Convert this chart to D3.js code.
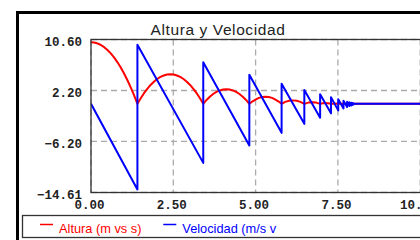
<!DOCTYPE html>
<html>
<head>
<meta charset="utf-8">
<script src="https://cdn.jsdelivr.net/npm/d3@7"></script>
<style>
  html, body { margin: 0; padding: 0; background: #fff; }
  svg { display: block; }
</style>
</head>
<body>
<div id="chart"></div>
<script>
// Altura (m) por tiempo (s)
const tiempoAltura = [
  0, 0.1, 0.2, 0.3, 0.4, 0.5, 0.6, 0.7, 0.8, 0.9, 1.0, 1.1, 1.2, 1.3, 1.36, 1.41,
  1.51, 1.61, 1.71, 1.81, 1.91, 2.01, 2.11, 2.21, 2.31, 2.41, 2.51, 2.61, 2.71, 2.81, 2.91, 3.01, 3.11, 3.21, 3.31, 3.41,
  3.51, 3.61, 3.71, 3.81, 3.91, 4.01, 4.11, 4.21, 4.31, 4.41, 4.51, 4.61, 4.71, 4.81,
  4.91, 5.01, 5.10, 5.20, 5.30, 5.40, 5.50, 5.59, 5.69, 5.79,
  5.90, 6.02, 6.13, 6.25, 6.36, 6.48,
  6.60, 6.72, 6.84, 6.96,
  7.04, 7.12, 7.20, 7.29,
  7.40, 7.51, 7.59, 7.67, 10
];
const altura = [
  10.15, 10.10, 9.95, 9.69, 9.33, 8.87, 8.31, 7.65, 6.88, 6.02, 5.04, 3.97, 2.80, 1.52, 0.71, 0,
  0.92, 1.75, 2.48, 3.11, 3.65, 4.09, 4.43, 4.67, 4.82, 4.87, 4.82, 4.67, 4.43, 4.09, 3.65, 3.11, 2.48, 1.75, 0.92, 0,
  0.64, 1.18, 1.62, 1.96, 2.21, 2.35, 2.40, 2.35, 2.21, 1.96, 1.62, 1.18, 0.64, 0,
  0.42, 0.75, 0.98, 1.12, 1.17, 1.12, 0.98, 0.75, 0.42, 0,
  0.32, 0.51, 0.57, 0.51, 0.32, 0,
  0.20, 0.27, 0.20, 0,
  0.10, 0.13, 0.10, 0,
  0.06, 0, 0.03, 0, 0
];

// Velocidad (m/s) por tiempo (s)
const tiempoVelocidad = [
  0, 1.41, 1.41, 3.41, 3.41, 4.81, 4.81, 5.79, 5.79, 6.48, 6.48, 6.96, 6.96, 7.29, 7.29,
  7.51, 7.51, 7.67, 7.67, 7.78, 7.78, 7.85, 7.85, 7.91, 7.91, 7.94, 7.94, 7.97, 7.97, 8.0, 10
];
const velocidad = [
  0, -14.1, 9.73, -9.73, 6.86, -6.86, 4.78, -4.78, 3.3, -3.3, 2.28, -2.28, 1.57, -1.57, 1.08,
  -1.08, 0.75, -0.75, 0.52, -0.52, 0.36, -0.36, 0.25, -0.25, 0.17, -0.17, 0.12, -0.12, 0.08, 0, 0
];

// Ejes
const xTicks = [0, 2.5, 5, 7.5, 10];
const yTicks = [-14.61, -6.2, 2.2, 10.6];
const xDomain = [0, 10];
const yDomain = [-14.61, 10.6];

const series = [
  { name: "Altura (m vs s)", color: "#ff0000", t: tiempoAltura, v: altura },
  { name: "Velocidad (m/s v", color: "#0000ff", t: tiempoVelocidad, v: velocidad }
];

const width = 420;
const height = 240;
const plotLeft = 91;
const plotTop = 39.5;
const plotBottom = 192.5;
const plotRight = 420.2;

const x = d3.scaleLinear().domain(xDomain).range([plotLeft, plotRight]);
const y = d3.scaleLinear().domain(yDomain).range([plotBottom, plotTop]);

const svg = d3.select("#chart").append("svg")
    .attr("width", width)
    .attr("height", height)
    .attr("viewBox", [0, 0, width, height]);

// outer black frame (runs past the window)
svg.append("rect")
    .attr("x", 17.5)
    .attr("y", 12.5)
    .attr("width", 430)
    .attr("height", 250)
    .attr("fill", "#fff")
    .attr("stroke", "#000")
    .attr("stroke-width", 3);

// title
svg.append("text")
    .attr("x", 218)
    .attr("y", 35)
    .attr("text-anchor", "middle")
    .attr("font-family", "'Liberation Sans', Arial, sans-serif")
    .attr("font-size", 15.5)
    .attr("letter-spacing", 0.6)
    .attr("fill", "#222")
    .text("Altura y Velocidad");

svg.append("clipPath")
    .attr("id", "plot-clip")
  .append("rect")
    .attr("x", plotLeft)
    .attr("y", plotTop)
    .attr("width", plotRight - plotLeft)
    .attr("height", plotBottom - plotTop);

// grid
const grid = svg.append("g")
    .attr("stroke", "#aaa")
    .attr("stroke-width", 1.3)
    .attr("stroke-dasharray", "6,4");

grid.selectAll(".gx")
  .data(xTicks)
  .join("line")
    .attr("x1", d => x(d))
    .attr("x2", d => x(d))
    .attr("y1", plotTop)
    .attr("y2", plotBottom);

grid.selectAll(".gy")
  .data(yTicks)
  .join("line")
    .attr("class", "gy")
    .attr("x1", plotLeft)
    .attr("x2", plotRight)
    .attr("y1", d => y(d))
    .attr("y2", d => y(d));

// series lines
const line = d3.line()
    .x(d => x(d[0]))
    .y(d => y(d[1]));

svg.append("g")
    .attr("clip-path", "url(#plot-clip)")
  .selectAll("path")
  .data(series)
  .join("path")
    .attr("fill", "none")
    .attr("stroke", d => d.color)
    .attr("stroke-width", 2)
    .attr("stroke-linejoin", "round")
    .attr("d", d => line(d.t.map((t, i) => [t, d.v[i]])));

// plot frame
svg.append("rect")
    .attr("x", plotLeft)
    .attr("y", plotTop)
    .attr("width", 400)
    .attr("height", plotBottom - plotTop)
    .attr("fill", "none")
    .attr("stroke", "#333")
    .attr("stroke-width", 1.3);

// axes
const fmt = d3.format(".2f");
const tickFont = "'Liberation Mono', 'Courier New', monospace";

svg.append("g")
    .attr("transform", `translate(${plotLeft},0)`)
    .call(d3.axisLeft(y).tickValues(yTicks).tickFormat(fmt).tickSize(0).tickPadding(9))
    .call(g => g.select(".domain").remove())
    .call(g => g.selectAll(".tick text")
        .attr("dy", "0.45em")
        .attr("font-family", tickFont)
        .attr("font-weight", "bold")
        .attr("font-size", 12.5)
        .attr("fill", "#222"));

svg.append("g")
    .attr("transform", `translate(0,${plotBottom})`)
    .call(d3.axisBottom(x).tickValues(xTicks).tickFormat(fmt).tickSize(0).tickPadding(8))
    .call(g => g.select(".domain").remove())
    .call(g => g.selectAll(".tick text")
        .attr("dx", -2)
        .attr("font-family", tickFont)
        .attr("font-weight", "bold")
        .attr("font-size", 12.5)
        .attr("fill", "#222"));

// legend
svg.append("rect")
    .attr("x", 22.5)
    .attr("y", 215.5)
    .attr("width", 420)
    .attr("height", 22)
    .attr("fill", "#fff")
    .attr("stroke", "#333")
    .attr("stroke-width", 1.3);

const legend = svg.append("g")
  .selectAll("g")
  .data(series)
  .join("g")
    .attr("transform", (d, i) => `translate(${40 + i * 123.3},224.5)`);

legend.append("line")
    .attr("x1", 0)
    .attr("x2", 13)
    .attr("stroke", d => d.color)
    .attr("stroke-width", 1.5);

legend.append("text")
    .attr("x", 19)
    .attr("y", 8)
    .attr("font-family", "'Liberation Sans', Arial, sans-serif")
    .attr("font-size", 12.8)
    .attr("fill", d => d.color)
    .text(d => d.name);
</script>
</body>
</html>
